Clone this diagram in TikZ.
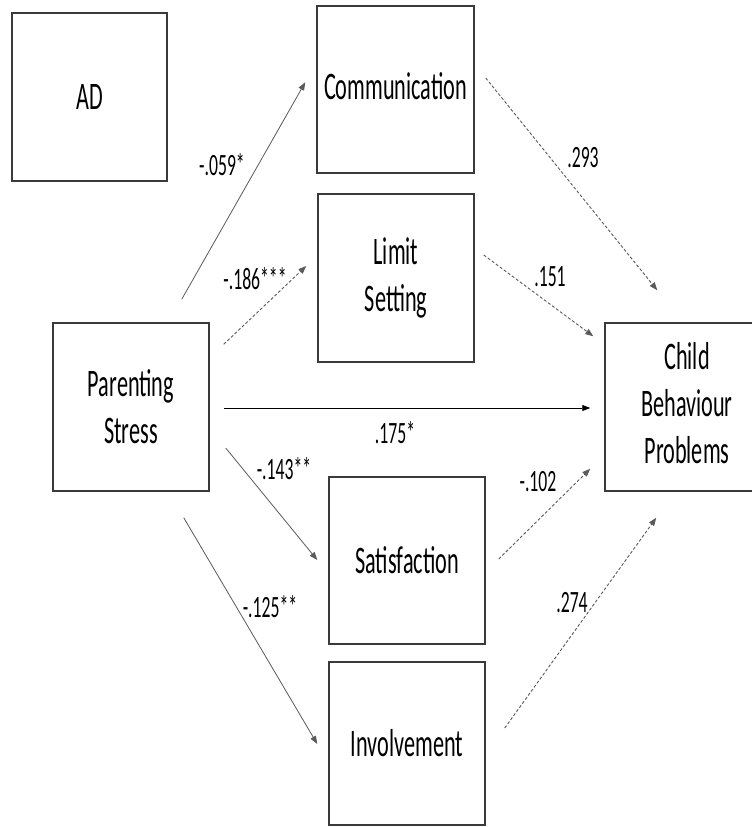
\documentclass[tikz,border=0pt]{standalone}
\usepackage{fontspec}
\setmainfont{Carlito}[FakeStretch=0.57]
\usetikzlibrary{arrows.meta,calc}
\definecolor{boxline}{HTML}{3A3A3A}
\definecolor{arrgray}{HTML}{5A5A5A}
\tikzset{
  box/.style={draw=boxline, line width=1.5pt, rectangle, align=center,
    inner sep=0pt, font=\fontsize{39}{47}\selectfont},
  lbl/.style={inner sep=0pt, font=\fontsize{31}{34}\selectfont},
  tip/.style={-{Triangle[length=8pt,width=6pt]}},
  solidarr/.style={tip, draw=arrgray, line width=0.8pt},
  blackarr/.style={tip, draw=black, line width=0.9pt},
  dasharr/.style={tip, draw=arrgray, line width=0.9pt, dash pattern=on 3pt off 2pt}
}
\begin{document}
\begin{tikzpicture}[x=1pt, y=-1pt]
\useasboundingbox (0,0) rectangle (752,827);
\clip (0,0) rectangle (752,827);
\fill[white] (0,0) rectangle (752,827);
% boxes
\node[box, minimum width=155pt, minimum height=168pt] (ad) at (89.5,97) {AD};
\node[box, minimum width=157pt, minimum height=167pt] (comm) at (395.5,89.5) {\raisebox{6pt}{Communication}};
\node[box, minimum width=156pt, minimum height=168pt] (lim) at (396,278) {Limit\\Setting};
\node[box, minimum width=156pt, minimum height=168pt] (ps) at (131,407) {Parenting\\Stress};
\node[box, minimum width=200pt, minimum height=168pt] (cbp) at (705,407) {\hspace*{-36pt}\begin{tabular}{@{}c@{}}Child\\Behaviour\\Problems\end{tabular}};
\node[box, minimum width=156pt, minimum height=167pt] (sat) at (407,560.5) {Satisfaction};
\node[box, minimum width=156pt, minimum height=163pt] (inv) at (407,743.5) {Involvement};
% connectors
\draw[solidarr] ([shift={(-28,-23)}]ps.north east) -- ([shift={(-11,77)}]comm.north west);
\draw[dasharr]  ([shift={(14,22)}]ps.north east) -- ([shift={(-11,-12)}]lim.west);
\draw[blackarr] ([shift={(14,1)}]ps.east) -- ([shift={(-14,1)}]cbp.west);
\draw[solidarr] ([shift={(16,41)}]ps.east) -- ([shift={(-11,-0.5)}]sat.west);
\draw[solidarr] ([shift={(-26,26)}]ps.south east) -- ([shift={(-11,0.5)}]inv.west);
\draw[dasharr]  ([shift={(11,-11.5)}]comm.east) -- ([shift={(53,-32)}]cbp.north west);
\draw[dasharr]  ([shift={(9,-23)}]lim.east) -- ([shift={(-11,14)}]cbp.north west);
\draw[dasharr]  ([shift={(13,-1.5)}]sat.east) -- ([shift={(-14,-23)}]cbp.south west);
\draw[dasharr]  ([shift={(19,-15.5)}]inv.east) -- ([shift={(52,26)}]cbp.south west);
% labels
\node[lbl] (l1) at (222,165) {-.059*};
\node[lbl] (l2) at (255,279) {-.186***};
\node[lbl] (l3) at (550,277) {.151};
\node[lbl] (l4) at (583,158) {.293};
\node[lbl] (l5) at (395,433) {.175*};
\node[lbl] (l6) at (284,469) {-.143**};
\node[lbl] (l7) at (270,607) {-.125**};
\node[lbl] (l8) at (538,482) {-.102};
\node[lbl] (l9) at (572,603) {.274};
\end{tikzpicture}
\end{document}
